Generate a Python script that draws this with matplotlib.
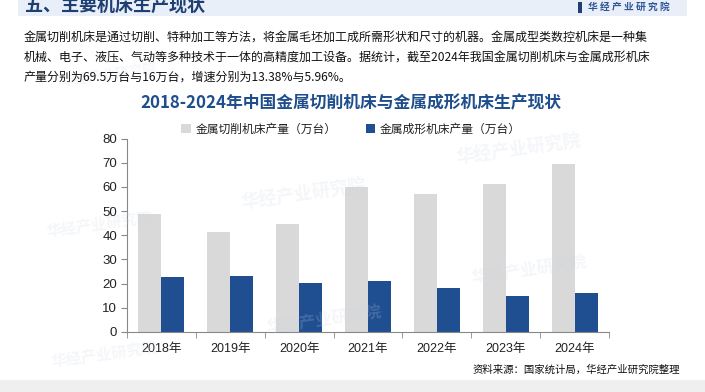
import matplotlib
matplotlib.use('Agg')
import matplotlib.pyplot as plt
from matplotlib.patches import Rectangle
import numpy as np

plt.rcParams['font.family'] = ['Liberation Sans', 'Noto Sans CJK SC', 'DejaVu Sans']

years = ['2018年', '2019年', '2020年', '2021年', '2022年', '2023年', '2024年']
cutting = [48.7, 41.3, 44.6, 59.9, 57.1, 61.3, 69.5]   # 金属切削机床产量（万台）
forming = [22.8, 23.3, 20.2, 21.1, 18.2, 15.0, 16.0]   # 金属成形机床产量（万台）
yticks = [0, 10, 20, 30, 40, 50, 60, 70, 80]

gray = '#d9d9d9'
blue = '#1f4e91'
dark = '#1f3f73'
cjk = ['Noto Sans CJK SC', 'DejaVu Sans']

fig = plt.figure(figsize=(7.05, 3.92), dpi=100)

# header band + bottom band
fig.patches.append(Rectangle((18/705, 1-16/392), 669/705, 16/392, transform=fig.transFigure,
                             fc='#e9eff8', ec='none', zorder=0))
fig.patches.append(Rectangle((0, 0), 1, 12/392, transform=fig.transFigure,
                             fc='#efefef', ec='none', zorder=0))
fig.text(25/705, 1-5/392, '五、主要机床生产现状', family=cjk, fontsize=13, fontweight='bold',
         color=dark, va='center', ha='left')
fig.patches.append(Rectangle((578/705, 1-13/392), 4/705, 11/392, transform=fig.transFigure,
                             fc=dark, ec='none'))
fig.text(588/705, 1-7/392, '华 经 产 业 研 究 院', family=cjk, fontsize=7, fontweight='bold',
         color='#2f5597', va='center', ha='left')

para = ['金属切削机床是通过切削、特种加工等方法，将金属毛坯加工成所需形状和尺寸的机器。金属成型类数控机床是一种集',
        '机械、电子、液压、气动等多种技术于一体的高精度加工设备。据统计，截至2024年我国金属切削机床与金属成形机床',
        '产量分别为69.5万台与16万台，增速分别为13.38%与5.96%。']
for i, line in enumerate(para):
    fig.text(24/705, 1-(37+20*i)/392, line, family=cjk, fontsize=8.65, color='#111111',
             va='center', ha='left')

fig.text(351/705, 1-103/392, '2018-2024年中国金属切削机床与金属成形机床生产现状', family=cjk,
         fontsize=12.1, fontweight='bold', color='#1f4e8c', va='center', ha='center')

# faint watermarks
for (wx, wy, s) in [(455, 150, 13), (240, 195, 13), (45, 225, 11), (265, 320, 12), (50, 355, 11), (470, 270, 12), (60, 75, 10)]:
    fig.text(wx/705, 1-wy/392, '华经产业研究院', family=cjk, fontsize=s, fontweight='bold',
             color='#c8d3e3', alpha=0.2, rotation=8, va='center', ha='left', zorder=0)

ax = fig.add_axes([127/705, 1-332/392, 482/705, 193.5/392])
ax.patch.set_alpha(0)
x = np.arange(len(years))
w = 0.335
ax.bar(x - w/2, cutting, w, color=gray, label='金属切削机床产量（万台）', zorder=2)
ax.bar(x + w/2, forming, w, color=blue, label='金属成形机床产量（万台）', zorder=2)

ax.set_xlim(-0.5, len(years) - 0.5)
ax.set_ylim(0, 80)
ax.set_yticks(yticks)
ax.set_xticks(x)
ax.set_xticklabels(years)
ax.set_xticks(np.arange(len(years) + 1) - 0.5, minor=True)
ax.tick_params(axis='x', which='major', length=0, pad=8, labelsize=9, colors='#222222')
ax.tick_params(axis='x', which='minor', length=4, color='#888888', direction='out')
ax.tick_params(axis='y', length=4, color='#888888', labelsize=9.5, colors='#222222', pad=3)
ax.tick_params(axis='y', colors='#222222', color='#888888')
for sp in ['top', 'right']:
    ax.spines[sp].set_visible(False)
for sp in ['left', 'bottom']:
    ax.spines[sp].set_color('#888888')
    ax.spines[sp].set_linewidth(0.8)

leg = ax.legend(loc='lower center', bbox_to_anchor=(0.465, 0.96), ncol=2, frameon=False,
                prop={'family': cjk, 'size': 8.5}, handlelength=0.8, handleheight=0.8,
                handletextpad=0.4, columnspacing=2.5)
for t in leg.get_texts():
    t.set_color('#222222')

fig.text(680/705, 1-370/392, '资料来源：国家统计局，华经产业研究院整理', family=cjk, fontsize=7.5,
         color='#111111', va='center', ha='right')

fig.savefig('out.png', dpi=100)
